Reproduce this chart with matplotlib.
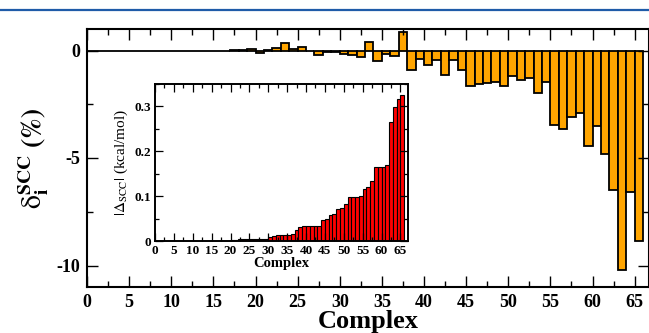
import numpy as np
import matplotlib
matplotlib.use("Agg")
import matplotlib.pyplot as plt
from matplotlib.lines import Line2D
from matplotlib.ticker import MultipleLocator

plt.rcParams['font.family'] = ['Liberation Serif', 'DejaVu Serif']
plt.rcParams['mathtext.fontset'] = 'stix'
plt.rcParams['axes.unicode_minus'] = False

# relative SCC deviation per complex (%)
delta_scc = [0, 0, 0, 0, 0, 0, 0, 0, 0, 0,
             0, 0, 0, 0, 0, 0, 0, 0.02, 0.03, 0.05,
             -0.12, 0.02, 0.12, 0.36, 0.08, 0.15, -0.02, -0.19, -0.05, -0.06,
             -0.15, -0.2, -0.32, 0.4, -0.5, -0.15, -0.25, 0.85, -0.89, -0.39,
             -0.66, -0.46, -1.13, -0.46, -0.9, -1.65, -1.57, -1.5, -1.45, -1.67,
             -1.17, -1.36, -1.28, -1.97, -1.48, -3.47, -3.63, -3.09, -2.93, -4.44,
             -3.52, -4.81, -6.51, -10.23, -6.56, -8.84]

# |Delta_SCC| sorted (kcal/mol)
abs_scc = [0, 0, 0, 0, 0, 0, 0, 0, 0, 0,
           0, 0, 0, 0, 0, 0, 0, 0, 0, 0.001,
           0.002, 0.003, 0.004, 0.005, 0.005, 0.005, 0.005, 0.005, 0.005, 0.005,
           0.009, 0.011, 0.013, 0.013, 0.013, 0.013, 0.015, 0.024, 0.031, 0.034,
           0.034, 0.034, 0.034, 0.034, 0.046, 0.05, 0.057, 0.061, 0.071, 0.073,
           0.082, 0.097, 0.097, 0.097, 0.101, 0.115, 0.12, 0.133, 0.166, 0.166,
           0.166, 0.17, 0.266, 0.298, 0.316, 0.326]

complexes = np.arange(len(delta_scc))

fig = plt.figure(figsize=(6.49, 3.33), dpi=100)

# journal header line
fig.add_artist(Line2D([0, 1], [1 - 10 / 333] * 2, color='#1f5ba8', lw=1.6))

# main plot
ax = fig.add_axes([87 / 649, 46 / 333, 562 / 649, 258 / 333])
ax.bar(complexes, delta_scc, width=1.0, align='edge', color='#FFA500',
       edgecolor='black', linewidth=1.3)
ax.set_xlim(0, 66.7)
ax.set_ylim(-11, 1)
ax.xaxis.set_major_locator(MultipleLocator(5))
ax.xaxis.set_minor_locator(MultipleLocator(2.5))
ax.yaxis.set_major_locator(MultipleLocator(5))
ax.yaxis.set_minor_locator(MultipleLocator(2.5))
ax.tick_params(which='both', direction='in', top=True, right=True, width=1.0)
ax.tick_params(which='major', length=8, labelsize=13, pad=5)
ax.tick_params(which='minor', length=4)
for lbl in ax.get_xticklabels() + ax.get_yticklabels():
    lbl.set_fontweight('bold')
for sp in ax.spines.values():
    sp.set_linewidth(1.5)
ax.set_xlabel('Complex', fontsize=19, fontweight='bold', labelpad=-1)
ax.set_ylabel(r'$\mathrm{\delta}_{\mathbf{i}}^{\mathbf{SCC}}$ $\mathbf{(\%)}$',
              fontsize=20, labelpad=4)

# inset
axi = fig.add_axes([155 / 649, 92 / 333, 253 / 649, 157 / 333])
axi.bar(complexes, abs_scc, width=1.0, align='edge', color='#FF0000',
        edgecolor='black', linewidth=0.8)
axi.set_xlim(0, 67)
axi.set_ylim(0, 0.35)
axi.xaxis.set_major_locator(MultipleLocator(5))
axi.xaxis.set_minor_locator(MultipleLocator(2.5))
axi.yaxis.set_minor_locator(MultipleLocator(0.05))
axi.tick_params(which='both', direction='in', top=True, right=True, width=0.9)
axi.tick_params(which='major', length=6, labelsize=9.5, pad=3)
axi.tick_params(which='minor', length=3)
axi.set_yticks([0, 0.1, 0.2, 0.3], ['0', '0.1', '0.2', '0.3'])
for lbl in axi.get_xticklabels() + axi.get_yticklabels():
    lbl.set_fontweight('bold')
for sp in axi.spines.values():
    sp.set_linewidth(1.4)
axi.set_xlabel('Complex', fontsize=10.5, fontweight='bold', labelpad=0)
axi.set_ylabel(r'$|\Delta_{\mathrm{SCC}}|$ (kcal/mol)', fontsize=11, labelpad=3)

fig.savefig('out.png', dpi=100)
